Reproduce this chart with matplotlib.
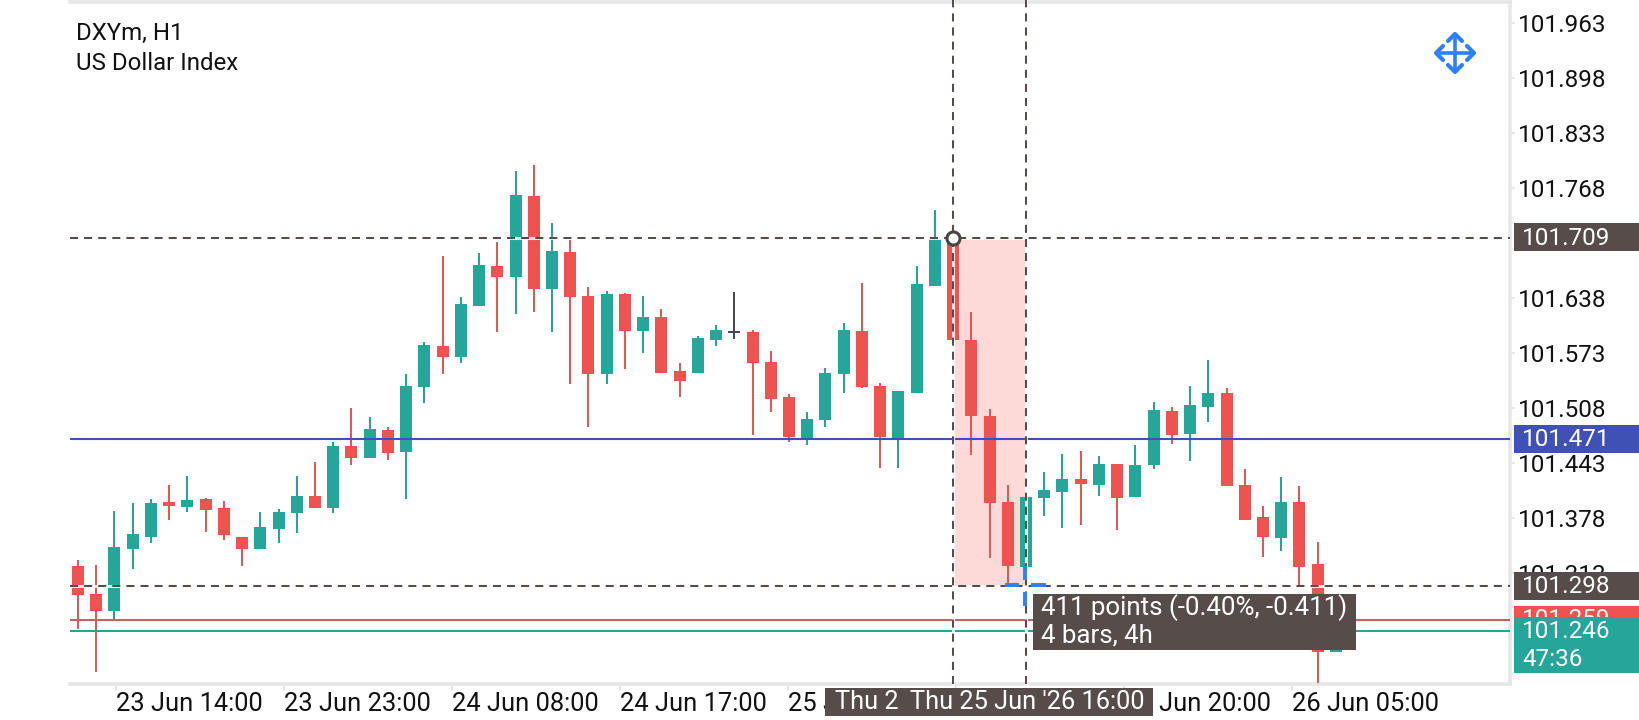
import matplotlib
matplotlib.use("Agg")
import matplotlib.pyplot as plt
from matplotlib.patches import Rectangle

plt.rcParams['font.family'] = ['Roboto', 'DejaVu Sans']

# precios
highs = [101.328, 101.322, 101.386, 101.396, 101.400, 101.417, 101.428, 101.402, 101.398, 101.355,
         101.385, 101.388, 101.428, 101.444, 101.468, 101.508, 101.497, 101.486, 101.548, 101.586,
         101.688, 101.639, 101.691, 101.704, 101.788, 101.795, 101.727, 101.707, 101.651, 101.646,
         101.644, 101.640, 101.625, 101.561, 101.593, 101.606, 101.645, 101.600, 101.575, 101.524,
         101.503, 101.555, 101.608, 101.656, 101.537, 101.528, 101.676, 101.742, 101.709, 101.621,
         101.507, 101.417, 101.403, 101.432, 101.454, 101.457, 101.451, 101.442, 101.464, 101.515,
         101.509, 101.534, 101.565, 101.532, 101.436, 101.392, 101.426, 101.416, 101.350, 101.250]
lows = [101.247, 101.196, 101.259, 101.318, 101.348, 101.376, 101.385, 101.361, 101.352, 101.321,
        101.341, 101.348, 101.360, 101.390, 101.384, 101.441, 101.449, 101.446, 101.400, 101.514,
        101.548, 101.561, 101.629, 101.598, 101.619, 101.621, 101.598, 101.536, 101.486, 101.536,
        101.554, 101.573, 101.549, 101.521, 101.549, 101.581, 101.590, 101.476, 101.503, 101.468,
        101.464, 101.486, 101.526, 101.532, 101.437, 101.437, 101.526, 101.652, 101.588, 101.452,
        101.331, 101.298, 101.298, 101.380, 101.366, 101.370, 101.404, 101.364, 101.403, 101.436,
        101.465, 101.445, 101.491, 101.416, 101.376, 101.332, 101.339, 101.299, 101.183, 101.219]
body_top = [101.321, 101.288, 101.344, 101.359, 101.396, 101.397, 101.399, 101.400, 101.390, 101.355,
            101.367, 101.385, 101.404, 101.404, 101.463, 101.463, 101.483, 101.482, 101.534, 101.582,
            101.581, 101.631, 101.677, 101.676, 101.760, 101.759, 101.693, 101.692, 101.640, 101.643,
            101.643, 101.616, 101.616, 101.552, 101.591, 101.600, 101.599, 101.598, 101.562, 101.521,
            101.495, 101.549, 101.600, 101.599, 101.534, 101.528, 101.655, 101.708, 101.709, 101.588,
            101.498, 101.397, 101.403, 101.411, 101.424, 101.424, 101.442, 101.442, 101.441, 101.506,
            101.504, 101.511, 101.526, 101.526, 101.417, 101.379, 101.397, 101.397, 101.324, 101.246]
body_bot = [101.287, 101.268, 101.268, 101.341, 101.355, 101.392, 101.391, 101.387, 101.358, 101.341,
            101.341, 101.365, 101.384, 101.390, 101.390, 101.449, 101.449, 101.455, 101.456, 101.533,
            101.568, 101.568, 101.629, 101.663, 101.663, 101.649, 101.649, 101.639, 101.548, 101.548,
            101.599, 101.599, 101.549, 101.540, 101.549, 101.588, 101.597, 101.561, 101.519, 101.474,
            101.471, 101.494, 101.548, 101.533, 101.474, 101.471, 101.526, 101.652, 101.588, 101.498,
            101.396, 101.321, 101.320, 101.402, 101.409, 101.418, 101.417, 101.402, 101.403, 101.441,
            101.476, 101.477, 101.509, 101.416, 101.376, 101.355, 101.354, 101.320, 101.219, 101.219]
# r = bajista, g = alcista, d = doji
tipo = list("rrgggrgrrrgggrgrgrgg"
            "rggrgrgrrgrgrrggdrrr"
            "gggrrgggrrrrgggrgrgg"
            "rggrrrgrrg")

y_ticks = [101.963, 101.898, 101.833, 101.768, 101.638, 101.573, 101.508, 101.443, 101.378, 101.313]
x_tick_pos = [2.08, 11.30, 20.51, 29.73, 38.94, 48.16, 57.37, 66.59]
x_tick_txt = ["23 Jun 14:00", "23 Jun 23:00", "24 Jun 08:00", "24 Jun 17:00",
              "25 Jun 02:00", "25 Jun 11:00", "25 Jun 20:00", "26 Jun 05:00"]

precio_inicio = 101.709
precio_fin = 101.298
barra_inicio = 48
barra_fin = 52
linea_azul = 101.471
linea_roja = 101.257
linea_verde = 101.244

VERDE = "#26a69a"
ROJO = "#ef5350"
OSCURO = "#564d4b"
AZUL = "#3f51b5"
GRIS = "#e6e6e6"
AZUL_ICONO = "#2f80fb"

fig = plt.figure(figsize=(16.4, 7.2), dpi=100)
ax = fig.add_axes([70 / 1640, 36 / 720, 1440 / 1640, 682 / 720])
ax.set_xlim(-0.44, 78.55)
ax.set_ylim(101.1817, 101.9878)

colores = {"r": ROJO, "g": VERDE, "d": "#454850"}
colores_mecha = {"r": "#dd5a58", "g": "#2ba297", "d": "#454850"}
x = list(range(len(highs)))
alturas = [a - b for a, b in zip(body_top, body_bot)]

ax.vlines(x, lows, highs, colors=[colores_mecha[t] for t in tipo], linewidth=1.45, zorder=3)
ax.bar(x, alturas, bottom=body_bot, width=0.66, color=[colores[t] for t in tipo], linewidth=0, zorder=4)

# zona del rango medido
ax.add_patch(Rectangle((barra_inicio, precio_fin), barra_fin - barra_inicio, precio_inicio - precio_fin,
                       facecolor="#fdd9d8", edgecolor="none", zorder=1))

ax.axhline(linea_azul, color=AZUL, lw=1.5, zorder=5)
ax.axhline(linea_roja, color="#cb5f5f", lw=1.45, zorder=5)
ax.axhline(linea_verde, color="#2ba297", lw=1.45, zorder=5)

# lineas punteadas con halo blanco
punteada = (0, (4, 3))
for p in [precio_inicio, precio_fin]:
    ax.axhline(p, color="white", lw=2.2, alpha=0.85, zorder=6)
    ax.axhline(p, color=OSCURO, lw=1.45, ls=punteada, dash_capstyle="butt", zorder=7)
for b in [barra_inicio, barra_fin]:
    ax.axvline(b, color="white", lw=2.2, alpha=0.85, zorder=6, ymax=1.003, clip_on=False)
    ax.axvline(b, color=OSCURO, lw=1.45, ls=punteada, dash_capstyle="butt", zorder=7, ymax=1.003, clip_on=False)

# circulo de inicio
ax.plot([barra_inicio], [precio_inicio], "o", ms=9.4, mfc="white", mec="#4a4543", mew=2.2, zorder=8)

# marco
ax.spines["left"].set_visible(False)
for lado in ["top", "right", "bottom"]:
    ax.spines[lado].set_color(GRIS)
    ax.spines[lado].set_linewidth(2.6)
ax.yaxis.tick_right()
ax.set_yticks(y_ticks)
ax.set_yticklabels([f"{t:.3f}" for t in y_ticks], fontsize=17.5, color="#111111")
ax.tick_params(axis="y", length=3.5, width=1.4, color=GRIS, pad=2.5)
ax.set_xticks(x_tick_pos)
ax.set_xticklabels(x_tick_txt, fontsize=18.4, color="#111111", ha="left")
ax.tick_params(axis="x", length=4, width=1.4, color=GRIS, pad=1.5)

# capa en pixeles para etiquetas y cuadros
capa = fig.add_axes([0, 0, 1, 1], facecolor="none")
capa.set_xlim(0, 1640)
capa.set_ylim(720, 0)
capa.axis("off")


def y_px(precio):
    return 720 - ax.transData.transform((0, precio))[1]


def etiqueta(precio, color, y0, y1, z=3):
    capa.add_patch(Rectangle((1514, y0), 126, y1 - y0, facecolor=color, edgecolor="none", zorder=z))
    capa.text(1522, y_px(precio) + 0.5, f"{precio:.3f}", color="white", fontsize=17.5, va="center", zorder=z + 1)


etiqueta(101.709, OSCURO, 223, 251)
etiqueta(101.471, AZUL, 425, 453)
etiqueta(101.298, OSCURO, 572, 600)
etiqueta(101.259, ROJO, 606, 634)
capa.add_patch(Rectangle((1514, 617), 126, 56, facecolor=VERDE, edgecolor="none", zorder=7))
capa.text(1522, 631, "101.246", color="white", fontsize=17.5, va="center", zorder=8)
capa.text(1522, 659, "47:36", color="white", fontsize=17.5, va="center", zorder=8)

# titulo
capa.text(76, 33, "DXYm, H1", fontsize=17.25, color="#111111", va="center")
capa.text(76, 63, "US Dollar Index", fontsize=17.25, color="#111111", va="center")

# cuadro de medicion
capa.add_patch(Rectangle((1033, 594), 323, 56, facecolor=OSCURO, edgecolor="none", zorder=3))
capa.text(1041, 608, "411 points (-0.40%, -0.411)", color="white", fontsize=18.6, va="center", zorder=4)
capa.text(1041, 636, "4 bars, 4h", color="white", fontsize=18.6, va="center", zorder=4)

# marcas azules del cursor
for xs, ys in [((1005, 1019), (585, 585)), ((1031, 1046), (585, 585)),
               ((1025, 1025), (566, 580)), ((1025, 1025), (592, 606))]:
    capa.plot(xs, ys, color=AZUL_ICONO, lw=2.8, solid_capstyle="butt", zorder=2)

# cuadros de fecha
capa.add_patch(Rectangle((825, 688), 328, 28, facecolor=OSCURO, edgecolor="none", zorder=3))
capa.text(835, 702, "Thu 2", color="white", fontsize=18.3, va="center", zorder=4)
capa.text(910, 702, "Thu 25 Jun '26 16:00", color="white", fontsize=18.3, va="center", zorder=6)

# icono de mover
cx, cy = 1455, 53
capa.plot([cx - 17, cx + 17], [cy, cy], color=AZUL_ICONO, lw=2.6, zorder=3)
capa.plot([cx, cx], [cy - 17, cy + 17], color=AZUL_ICONO, lw=2.6, zorder=3)
for dx, dy in [(1, 0), (-1, 0), (0, 1), (0, -1)]:
    px = [cx + dx * 12 + dy * 7, cx + dx * 19, cx + dx * 12 - dy * 7]
    py = [cy + dy * 12 + dx * 7, cy + dy * 19, cy + dy * 12 - dx * 7]
    capa.plot(px, py, color=AZUL_ICONO, lw=3, solid_capstyle="round", solid_joinstyle="round", zorder=3)

print(len(highs), len(lows), len(body_top), len(body_bot), len(tipo))
fig.savefig("out.png", dpi=100)
